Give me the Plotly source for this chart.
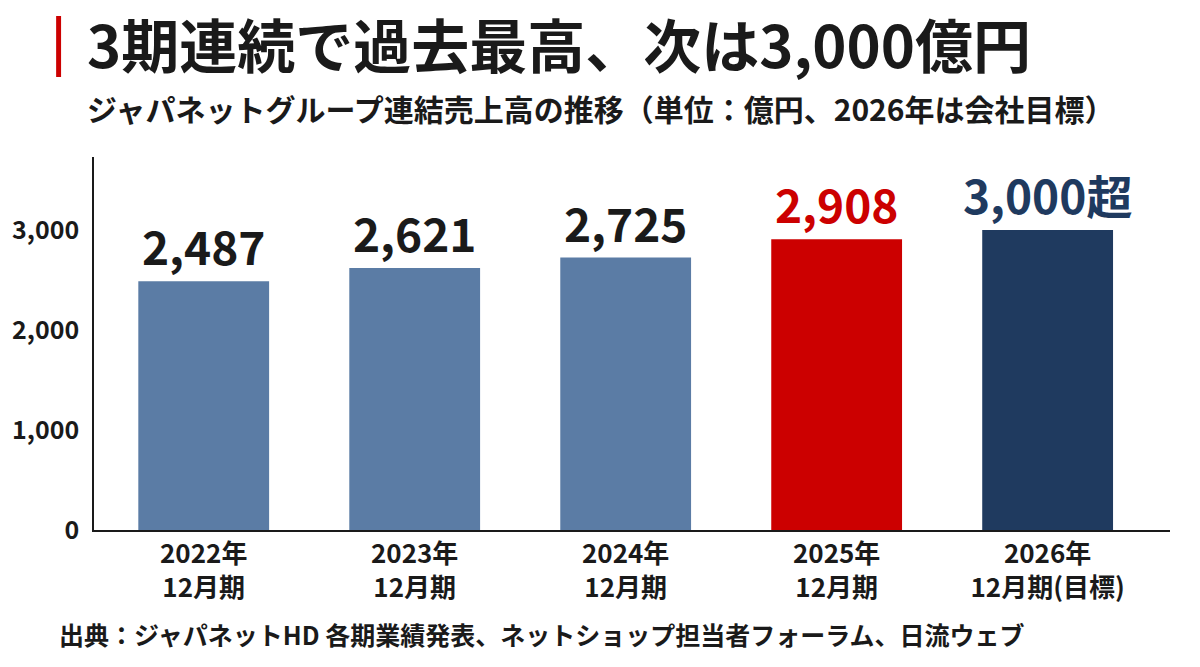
import plotly.graph_objects as go

categories = ["2022年<br>12月期", "2023年<br>12月期", "2024年<br>12月期", "2025年<br>12月期", "2026年<br>12月期(目標)"]
sales = [2487, 2621, 2725, 2908, 3000]
value_labels = ["2,487", "2,621", "2,725", "2,908", "3,000超"]
bar_colors = ["#5B7CA5", "#5B7CA5", "#5B7CA5", "#CC0000", "#1F3A5F"]
label_colors = ["#1A1A1A", "#1A1A1A", "#1A1A1A", "#CC0000", "#1F3A5F"]
y_ticks = [0, 1000, 2000, 3000]
y_tick_text = ["0", "1,000", "2,000", "3,000"]

FONT = "Noto Sans CJK JP"

fig = go.Figure()
fig.add_trace(go.Bar(
    x=categories,
    y=sales,
    marker=dict(color=bar_colors, line=dict(width=0)),
    width=0.62,
    text=value_labels,
    textposition="outside",
    constraintext="none",
    textfont=dict(family=FONT, size=46, color=label_colors, weight="bold"),
    cliponaxis=False,
))

fig.update_layout(
    width=1200, height=667,
    margin=dict(l=90, r=30, t=157, b=137),
    paper_bgcolor="white", plot_bgcolor="white",
    showlegend=False,
    font=dict(family=FONT, color="#1A1A1A"),
    xaxis=dict(
        type="category",
        range=[-0.52, 4.58],
        showline=True, linecolor="#1A1A1A", linewidth=1.5,
        showgrid=False, ticks="",
        tickfont=dict(family=FONT, size=26, color="#1A1A1A", weight="bold"),
    ),
    yaxis=dict(
        range=[0, 3730],
        tickvals=y_ticks, ticktext=y_tick_text,
        showline=True, linecolor="#1A1A1A", linewidth=1.5,
        showgrid=False, ticks="", zeroline=False,
        tickfont=dict(family=FONT, size=25, color="#1A1A1A", weight="bold"),
        ticklabelstandoff=8,
    ),
)

fig.add_shape(type="rect", xref="paper", yref="paper",
              x0=-0.0352, x1=-0.0306, y0=1.2145, y1=1.378,
              fillcolor="#CC0000", line=dict(width=0))

fig.add_annotation(text="3期連続で過去最高、次は3,000億円", xref="paper", yref="paper",
                   x=-0.008, y=1.3056, xanchor="left", yanchor="middle", showarrow=False,
                   font=dict(family=FONT, size=58, color="#1A1A1A", weight="bold"))
fig.add_annotation(text="ジャパネットグループ連結売上高の推移（単位：億円、2026年は会社目標）",
                   xref="paper", yref="paper",
                   x=-0.008, y=1.1314, xanchor="left", yanchor="middle", showarrow=False,
                   font=dict(family=FONT, size=30, color="#1A1A1A", weight="bold"))
fig.add_annotation(text="出典：ジャパネットHD 各期業績発表、ネットショップ担当者フォーラム、日流ウェブ",
                   xref="paper", yref="paper",
                   x=-0.034, y=-0.2788, xanchor="left", yanchor="middle", showarrow=False,
                   font=dict(family=FONT, size=25, color="#1A1A1A", weight="bold"))

fig.write_html("out.html", config={"displayModeBar": False},
               post_script="document.body.style.margin='0';")
